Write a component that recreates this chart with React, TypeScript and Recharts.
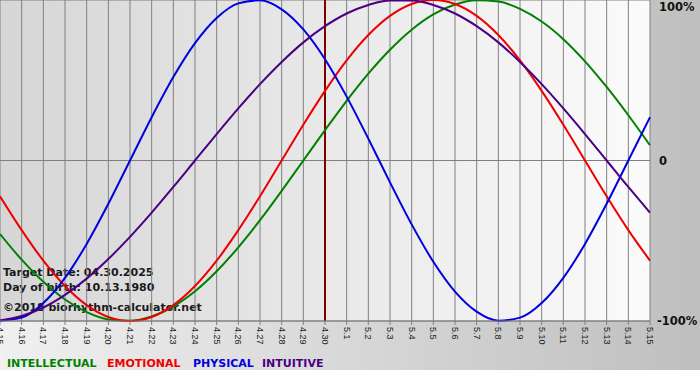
import { LineChart, Line, XAxis, YAxis, CartesianGrid, ReferenceLine } from 'recharts';

const dates = [
  '4.15', '4.16', '4.17', '4.18', '4.19', '4.20', '4.21', '4.22', '4.23', '4.24',
  '4.25', '4.26', '4.27', '4.28', '4.29', '4.30', '5.1', '5.2', '5.3', '5.4',
  '5.5', '5.6', '5.7', '5.8', '5.9', '5.10', '5.11', '5.12', '5.13', '5.14', '5.15',
];

const intellectual = [
  -0.458, -0.618, -0.756, -0.866, -0.945, -0.99, -0.999, -0.972, -0.91, -0.815,
  -0.69, -0.541, -0.372, -0.189, 0, 0.189, 0.372, 0.541, 0.69, 0.815,
  0.91, 0.972, 0.999, 0.99, 0.945, 0.866, 0.756, 0.618, 0.458, 0.282, 0.095,
];

const emotional = [
  -0.223, -0.434, -0.624, -0.782, -0.901, -0.975, -1, -0.975, -0.901, -0.782,
  -0.624, -0.434, -0.223, 0, 0.223, 0.434, 0.624, 0.782, 0.901, 0.975,
  1, 0.975, 0.901, 0.782, 0.624, 0.434, 0.223, 0, -0.223, -0.434, -0.624,
];

const physical = [
  -0.998, -0.979, -0.888, -0.731, -0.52, -0.27, 0, 0.27, 0.52, 0.731,
  0.888, 0.979, 0.998, 0.942, 0.817, 0.631, 0.398, 0.136, -0.136, -0.398,
  -0.631, -0.817, -0.942, -0.998, -0.979, -0.888, -0.731, -0.52, -0.27, 0, 0.27,
];

const intuitive = [
  -0.997, -0.969, -0.916, -0.837, -0.736, -0.614, -0.476, -0.325, -0.165, 0,
  0.165, 0.325, 0.476, 0.614, 0.736, 0.837, 0.916, 0.969, 0.997, 0.997,
  0.969, 0.916, 0.837, 0.736, 0.614, 0.476, 0.325, 0.165, 0, -0.165, -0.325,
];

const yTicks = [-1, 0, 1];
const targetDay = '4.30';

const series = [
  { key: 'intellectual', name: 'INTELLECTUAL', color: '#008000', legendX: 7 },
  { key: 'emotional', name: 'EMOTIONAL', color: '#ee0000', legendX: 107 },
  { key: 'physical', name: 'PHYSICAL', color: '#0000dd', legendX: 193 },
  { key: 'intuitive', name: 'INTUITIVE', color: '#4b0082', legendX: 262 },
];

const infoLines = [
  { text: 'Target Date: 04.30.2025', y: 276 },
  { text: 'Day of birth: 10.13.1980', y: 291 },
  { text: '\u00a92018 biorhythm-calculator.net', y: 311 },
];

const data = dates.map((d, i) => ({
  date: d,
  intellectual: intellectual[i],
  emotional: emotional[i],
  physical: physical[i],
  intuitive: intuitive[i],
}));

const boldFont = '"DejaVu Sans", Verdana, sans-serif';

function DateTick({ x, y, payload }: any) {
  return (
    <g transform={`translate(${x},${y})`}>
      <text
        transform="rotate(90)"
        x={0}
        y={0}
        dy="0.35em"
        textAnchor="start"
        fontSize={9}
        fontFamily='"Liberation Sans", Arial, sans-serif'
        fill="#1a1a1a"
      >
        {payload.value}
      </text>
    </g>
  );
}

function PercentTick({ y, payload }: any) {
  const v = payload.value;
  const label = v === 0 ? '0' : `${v * 100}%`;
  const ty = v === 1 ? 7 : y;
  return (
    <text
      x={v === -1 ? 657 : 659}
      y={ty}
      dy="0.36em"
      textAnchor="start"
      fontSize={11.5}
      fontWeight="bold"
      fontFamily={boldFont}
      fill="#111"
    >
      {label}
    </text>
  );
}

export default function App() {
  return (
    <div
      style={{
        position: 'absolute',
        left: 0,
        top: 0,
        width: 700,
        height: 380,
        background: '#fff',
      }}
    >
      <div
        style={{
          position: 'absolute',
          left: 0,
          top: 0,
          width: 700,
          height: 370,
          background: 'linear-gradient(to right, #f0f0f0, #bfbfbf)',
        }}
      />
      <div
        style={{
          position: 'absolute',
          left: 0,
          top: 0,
          width: 650,
          height: 321,
          background: 'linear-gradient(to right, #d6d6d6, #fbfbfb)',
        }}
      />
      <svg width={700} height={380} style={{ position: 'absolute', left: 0, top: 0 }}>
        {infoLines.map((l) => (
          <text key={l.text} x={3} y={l.y} fontSize={11} fontWeight="bold" fontFamily={boldFont} fill="#1a1a1a">
            {l.text}
          </text>
        ))}
        {series.map((s) => (
          <text key={s.key} x={s.legendX} y={367} fontSize={11} fontWeight="bold" fontFamily={boldFont} fill={s.color}>
            {s.name}
          </text>
        ))}
      </svg>
      <div style={{ position: 'absolute', left: 0, top: 0 }}>
        <LineChart width={700} height={370} data={data} margin={{ top: 0, right: 0, bottom: 0, left: 0 }}>
          <CartesianGrid stroke="#808080" strokeWidth={1} fill="none" />
          <XAxis
            dataKey="date"
            interval={0}
            height={49}
            tickSize={4}
            stroke="#808080"
            tick={<DateTick />}
          />
          <YAxis
            orientation="right"
            width={50}
            domain={[-1, 1]}
            ticks={yTicks}
            axisLine={false}
            tickLine={false}
            tick={<PercentTick />}
          />
          <ReferenceLine x={targetDay} stroke="#800000" strokeWidth={2} />
          {series.map((s) => (
            <Line
              key={s.key}
              type="monotone"
              dataKey={s.key}
              stroke={s.color}
              strokeWidth={2}
              dot={false}
              activeDot={false}
              isAnimationActive={false}
            />
          ))}
        </LineChart>
      </div>
    </div>
  );
}
